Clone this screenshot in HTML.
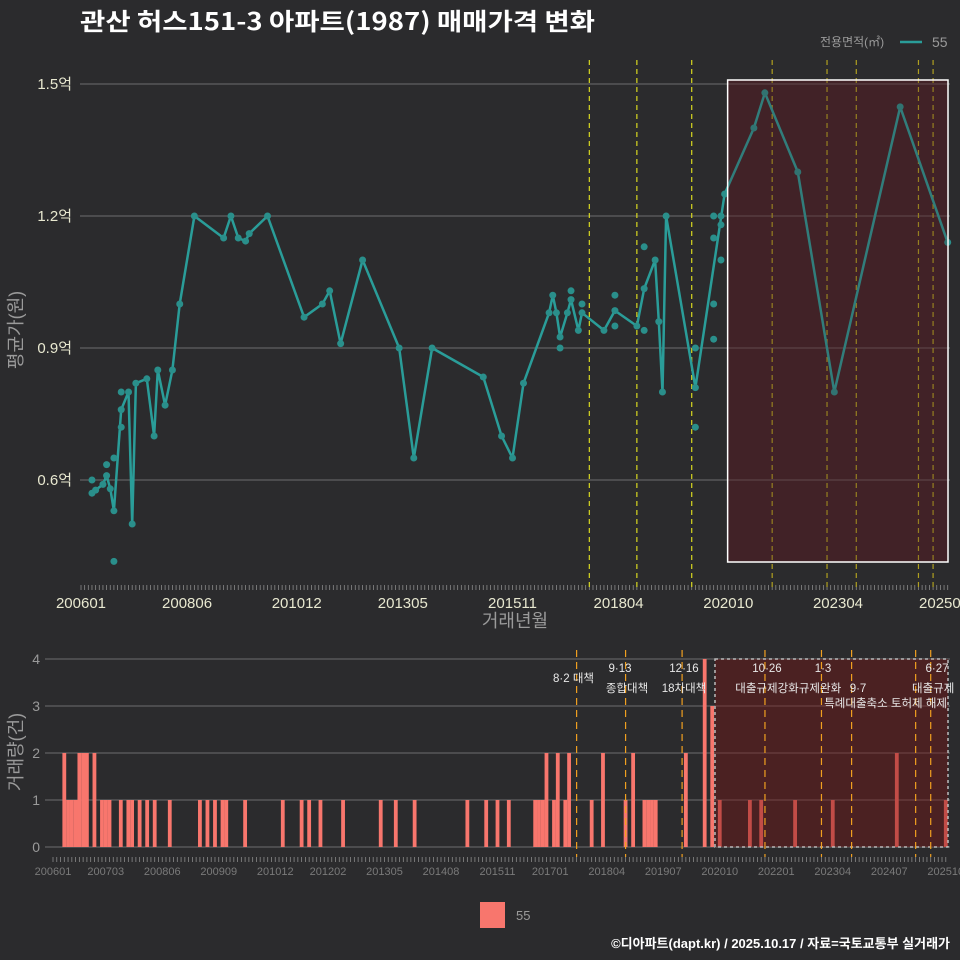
<!DOCTYPE html>
<html><head><meta charset="utf-8">
<style>
html,body{margin:0;padding:0;background:#2b2b2d;}
svg{display:block;font-family:"Liberation Sans","Noto Sans CJK KR",sans-serif;}
</style></head>
<body>
<svg id="chart" width="960" height="960" viewBox="0 0 960 960">
<rect x="0" y="0" width="960" height="960" fill="#2b2b2d"/>
<text x="80" y="30" fill="#ffffff" font-size="24" font-weight="bold" textLength="515" lengthAdjust="spacingAndGlyphs" style="font-family:'Noto Sans CJK KR',sans-serif">관산 허스151-3 아파트(1987) 매매가격 변화</text>
<g>
<text x="820" y="46" fill="#9a9a9a" font-size="12">전용면적(㎡)</text>
<line x1="900" y1="42" x2="922" y2="42" stroke="#2a9d99" stroke-width="2.5"/>
<text x="932" y="47" fill="#9a9a9a" font-size="14">55</text>
</g>
<g id="topPanel"></g>
<g id="bottomPanel"></g>
<text x="515" y="627" fill="#9a9a9a" font-size="18" text-anchor="middle">거래년월</text>
<text transform="translate(22,330) rotate(-90)" fill="#9a9a9a" font-size="18" text-anchor="middle">평균가(원)</text>
<text transform="translate(22,752) rotate(-90)" fill="#9a9a9a" font-size="18" text-anchor="middle">거래량(건)</text>
<rect x="480" y="902" width="25" height="26" fill="#f8766d"/>
<text x="516" y="920" fill="#9a9a9a" font-size="13">55</text>
<text x="950" y="948" fill="#ffffff" font-size="13" font-weight="bold" text-anchor="end">©디아파트(dapt.kr) / 2025.10.17 / 자료=국토교통부 실거래가</text>
</svg>
<script>
// months since 2006-01
const lineMonths=[3,4,6,7,8,9,11,13,14,15,18,20,21,23,25,27,31,39,41,43,45,46,51,61,66,68,71,77,87,91,96,110,115,118,121,128,129,130,131,133,134,136,137,143,146,152,154,157,158,159,160,168,176,184,187,196,206,224,237];
const lineValues=[0.57,0.577,0.59,0.61,0.58,0.53,0.76,0.80,0.50,0.82,0.83,0.70,0.85,0.77,0.85,1.00,1.20,1.15,1.20,1.15,1.143,1.16,1.20,0.97,1.00,1.03,0.91,1.10,0.90,0.65,0.90,0.834,0.70,0.65,0.82,0.98,1.02,0.98,0.925,0.98,1.01,0.94,0.98,0.94,0.985,0.95,1.035,1.10,0.96,0.80,1.20,0.81,1.25,1.40,1.48,1.30,0.80,1.448,1.14];
const dotMonths=[3,7,9,9,11,11,131,134,137,146,146,154,154,168,168,173,175,175,173,175,173,173];
const dotValues=[0.60,0.635,0.65,0.415,0.72,0.80,0.90,1.03,1.00,1.02,0.95,1.13,0.94,0.90,0.72,1.20,1.20,1.18,1.15,1.10,1.00,0.92];
const yTicks=[0.6,0.9,1.2,1.5];
const yTickLabels=['0.6억','0.9억','1.2억','1.5억'];
const xTickMonths=[0,29,59,88,118,147,177,207,236];
const xTickLabels=['200601','200806','201012','201305','201511','201804','202010','202304','202509'];
const volMonths=[3,7,8,9,11,131,134,137,146,154,168,224,173,175,4,5,6,13,14,15,18,20,21,23,25,27,31,39,41,43,45,46,51,61,66,68,71,77,87,91,96,110,115,118,121,128,129,130,133,136,143,152,157,158,159,160,177,185,188,197,207,237];
const volCounts=[2,2,2,2,2,2,2,2,2,2,2,2,4,3,1,1,1,1,1,1,1,1,1,1,1,1,1,1,1,1,1,1,1,1,1,1,1,1,1,1,1,1,1,1,1,1,1,1,1,1,1,1,1,1,1,1,1,1,1,1,1,1];
const volTicks=[0,1,2,3,4];
const volXTickMonths=[0,14,29,44,59,73,88,103,118,132,147,162,177,192,207,222,237];
const volXTickLabels=['200601','200703','200806','200909','201012','201202','201305','201408','201511','201701','201804','201907','202010','202201','202304','202407','202510'];
const policyMonths=[139,152,167,189,204,212,229,233];
const highlightStart=176, highlightEnd=237;

const NS='http://www.w3.org/2000/svg';
function mk(tag,attrs,parent){const e=document.createElementNS(NS,tag);for(const k in attrs)e.setAttribute(k,attrs[k]);parent.appendChild(e);return e;}
const xTop=m=>81+m*3.657;
const yTop=v=>84+(1.5-v)*440;
const xBot=m=>53+m*3.767;
const yBot=c=>847-c*47;
const topG=document.getElementById('topPanel'), botG=document.getElementById('bottomPanel');

yTicks.forEach((t,i)=>{
  const g=mk('line',{x1:80,x2:950,y1:yTop(t),y2:yTop(t),stroke:'#6e6e6e','stroke-width':1},topG);
  
  
  const tx=mk('text',{x:72,y:yTop(t)+5,fill:'#e8e8d0','font-size':15,'text-anchor':'end'},topG);
  tx.textContent=yTickLabels[i];
  
  
});
const hbFill=mk('rect',{x:xTop(highlightStart)+3,y:80,width:948-xTop(highlightStart)-3,height:482,fill:'#3f2328'},topG);


yTicks.forEach(t=>{
  const g=mk('line',{x1:xTop(highlightStart)+3,x2:948,y1:yTop(t),y2:yTop(t),stroke:'#6a5a5c','stroke-width':1},topG);
  
  
});
for(let m=0;m<=237;m++){
  const t=mk('line',{x1:xTop(m),x2:xTop(m),y1:585,y2:590,stroke:'#8a8a8a','stroke-width':0.8},topG);
  
  
}
xTickMonths.forEach((m,i)=>{
  const tx=mk('text',{x:xTop(m),y:608,fill:'#e8e8d0','font-size':15,'text-anchor':'middle'},topG);
  tx.textContent=xTickLabels[i];
  
  
});
policyMonths.forEach(m=>{
  const l=mk('line',{x1:xTop(m),x2:xTop(m),y1:60,y2:588,stroke:m>=highlightStart?'#b0a020':'#d8d820','stroke-width':1.2,'stroke-dasharray':'5,4'},topG);
  
  
});
let d='';
lineMonths.forEach((m,i)=>{d+=(i?'L':'M')+xTop(m).toFixed(1)+','+yTop(lineValues[i]).toFixed(1);});
const path=mk('path',{d:d,fill:'none',stroke:'#2a9d99','stroke-width':2.5,'stroke-linejoin':'round'},topG);


lineMonths.forEach((m,i)=>{
  const c=mk('circle',{cx:xTop(m),cy:yTop(lineValues[i]),r:3.5,fill:'#2a8f8b'},topG);
  
  
});
dotMonths.forEach((m,i)=>{
  const c=mk('circle',{cx:xTop(m),cy:yTop(dotValues[i]),r:3.5,fill:'#2a8f8b'},topG);
  
  
});
const hb=mk('rect',{x:xTop(highlightStart)+3,y:80,width:948-xTop(highlightStart)-3,height:482,fill:'rgba(70,30,35,0.25)',stroke:'#ffffff','stroke-width':1.5},topG);



volTicks.forEach(t=>{
  const g=mk('line',{x1:45,x2:950,y1:yBot(t),y2:yBot(t),stroke:'#6e6e6e','stroke-width':1},botG);
  
  
  const tx=mk('text',{x:40,y:yBot(t)+5,fill:'#9a9a9a','font-size':14,'text-anchor':'end'},botG);
  tx.textContent=String(t);
  
  
});
for(let m=0;m<=237;m++){
  const t=mk('line',{x1:xBot(m),x2:xBot(m),y1:857,y2:862,stroke:'#8a8a8a','stroke-width':0.8},botG);
  
  
}
volXTickMonths.forEach((m,i)=>{
  const tx=mk('text',{x:xBot(m),y:875,fill:'#7a7a7a','font-size':11,'text-anchor':'middle'},botG);
  tx.textContent=volXTickLabels[i];
  
  
});
volMonths.forEach((m,i)=>{
  const r=mk('rect',{x:xBot(m)-1.9,y:yBot(volCounts[i]),width:3.8,height:volCounts[i]*47,fill:'#f8766d'},botG);
  
  
});
const hb2=mk('rect',{x:xBot(highlightStart)-1,y:659,width:948-xBot(highlightStart)+1,height:188,fill:'rgba(120,20,20,0.42)',stroke:'#bbbbbb','stroke-width':1.5,'stroke-dasharray':'3,3'},botG);


policyMonths.forEach(m=>{
  const l=mk('line',{x1:xBot(m),x2:xBot(m),y1:650,y2:857,stroke:'#f0a020','stroke-width':1.2,'stroke-dasharray':'7,5'},botG);
  
  
});
const notes=[['8·2 대책',553,682,'start'],['9·13',620,672,'middle'],['종합대책',627,692,'middle'],['12·16',684,672,'middle'],['18차대책',684,692,'middle'],['10·26',767,672,'middle'],['대출규제강화',767,692,'middle'],['1·3',823,672,'middle'],['규제완화',820,692,'middle'],['9·7',858,692,'middle'],['특례대출축소 토허제 해제',947,707,'end'],['6·27',937,672,'middle'],['대출규제',912,692,'start']];
notes.forEach(n=>{
  const tx=mk('text',{x:n[1],y:n[2],fill:'#e8e8e8','font-size':11.5,'text-anchor':n[3]},botG);
  tx.textContent=n[0];
  
  
});
</script>
</body></html>
